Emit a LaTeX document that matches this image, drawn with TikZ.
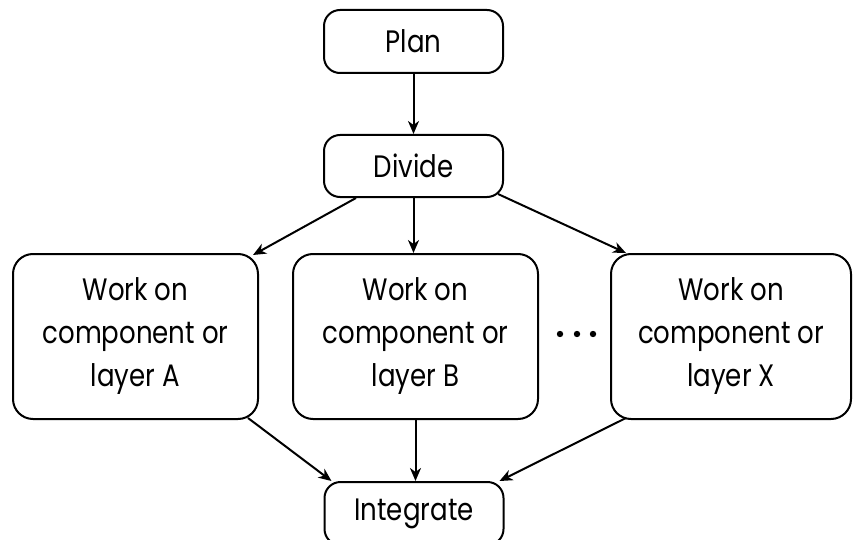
\documentclass[tikz,border=0pt]{standalone}
\usepackage{fontspec}
\setmainfont[FakeStretch=0.84]{Poppins}
\usetikzlibrary{arrows.meta,calc}

\tikzset{
  flowbox/.style={draw=black, line width=2pt, rounded corners=16pt, fill=white,
    align=center, inner sep=0pt, font=\fontsize{31}{43}\selectfont},
  smallbox/.style={flowbox, minimum width=179pt, minimum height=63pt},
  workbox/.style={flowbox, rounded corners=20pt, minimum height=165pt},
  flow/.style={line width=2pt, -{Stealth[length=13pt, width=11pt, inset=4pt]}},
}

\begin{document}
\begin{tikzpicture}[x=1pt, y=-1pt]
  \useasboundingbox (0,0) rectangle (853,540);

  % top of the flow
  \node[smallbox] (plan)   at (413.5,41.5) {Plan};
  \node[smallbox, minimum height=62pt] (divide) at (413.5,166) {Divide};

  % parallel work
  \node[workbox, minimum width=245pt] (wa) at (135.5,336.5) {Work on\\component or\\layer A};
  \node[workbox, minimum width=245pt] (wb) at (415.5,336.5) {Work on\\component or\\layer B};
  \node[workbox, minimum width=240pt] (wx) at (731,336.5) {Work on\\component or\\layer X};

  % ellipsis between B and X
  \foreach \dx in {560,577,593} \fill (\dx,334) circle (3.2pt);

  % bottom
  \node[smallbox] (integrate) at (414,513.5) {Integrate};

  % connectors
  \draw[flow] (plan.south) -- (divide.north);
  \draw[flow] ($(divide.south west)+(33,0)$) -- ($(wa.north east)+(-6,2)$);
  \draw[flow] (divide.south) -- (divide.south |- wb.north);
  \draw[flow] ($(divide.south east)+(-6,-4)$) -- ($(wx.north west)+(16,0)$);
  \draw[flow] ($(wa.south east)+(-11,-2)$) -- ($(integrate.north west)+(8,0)$);
  \draw[flow] (wb.south) -- (wb.south |- integrate.north);
  \draw[flow] ($(wx.south west)+(16,-2)$) -- ($(integrate.north east)+(-5,0)$);
\end{tikzpicture}
\end{document}
